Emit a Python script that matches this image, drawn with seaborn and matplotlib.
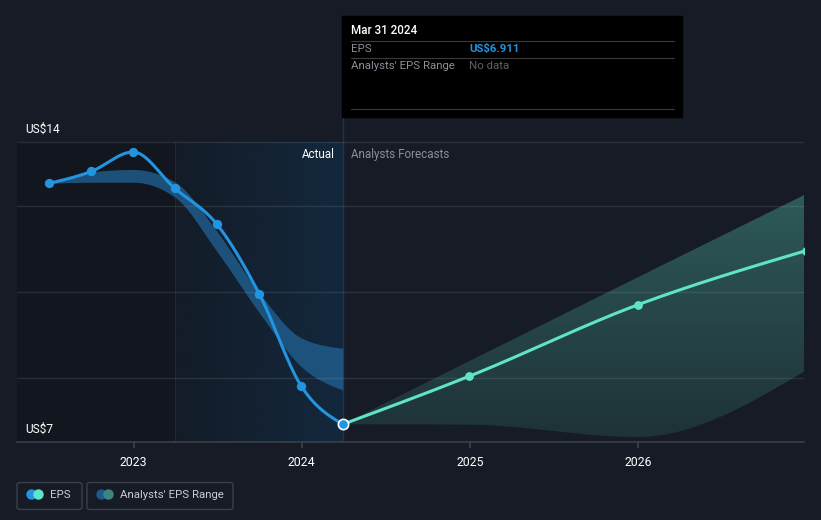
import numpy as np
import pandas as pd
import matplotlib
matplotlib.use("Agg")
import matplotlib.pyplot as plt
import seaborn as sns
from matplotlib.colors import LinearSegmentedColormap
from matplotlib.patches import FancyBboxPatch, Rectangle

# ================= DATA =================
# decimal years (quarter / year ends)
ACTUAL_X = [2022.496, 2022.748, 2022.997, 2023.244, 2023.496, 2023.748, 2023.997, 2024.244]
ACTUAL_EPS = [12.96, 13.26, 13.75, 12.84, 11.93, 10.18, 7.87, 6.911]

PAST_RANGE_LOW = [12.96, 12.99, 12.99, 12.62, 11.25, 9.71, 8.36, 7.77]
PAST_RANGE_HIGH = [12.96, 13.25, 13.31, 13.00, 11.75, 10.21, 9.08, 8.82]

FORECAST_X = [2024.244, 2024.997, 2025.997, 2026.997]
FORECAST_EPS = [6.911, 8.12, 9.91, 11.27]
FORECAST_LOW = [6.911, 6.90, 6.59, 8.26]
FORECAST_HIGH = [6.911, 8.50, 10.60, 12.69]

YEAR_TICKS = [2023, 2024, 2025, 2026]
GRID_VALUES = [14.0, 12.39, 10.23, 8.07]
# =========================================

BG = "#161b26"
BLUE = "#2394df"
TEAL = "#5fe3c9"

Y_MIN, Y_MAX = 6.466, 14.603
X_MIN, X_MAX = 2022.307, 2026.986
ACTUAL_START = 2023.244
NOW = 2024.244


def smooth(x, y, n=60):
    """monotone-x curve through the points (drawing only)"""
    x = np.asarray(x, float)
    y = np.asarray(y, float)
    h = np.diff(x)
    s = np.diff(y) / h
    k = len(y)
    m = np.zeros(k)
    for i in range(1, k - 1):
        p = (s[i - 1] * h[i] + s[i] * h[i - 1]) / (h[i - 1] + h[i])
        m[i] = (np.sign(s[i - 1]) + np.sign(s[i])) * min(abs(s[i - 1]), abs(s[i]), 0.5 * abs(p))
    m[0] = (3 * s[0] - m[1]) / 2 if k > 2 else s[0]
    m[-1] = (3 * s[-1] - m[-2]) / 2 if k > 2 else s[-1]
    xs, ys = [], []
    for i in range(k - 1):
        t = np.linspace(0, 1, n, endpoint=(i == k - 2))
        h00 = 2 * t**3 - 3 * t**2 + 1
        h10 = t**3 - 2 * t**2 + t
        h01 = -2 * t**3 + 3 * t**2
        h11 = t**3 - t**2
        xs.append(x[i] + t * h[i])
        ys.append(h00 * y[i] + h10 * h[i] * m[i] + h01 * y[i + 1] + h11 * h[i] * m[i + 1])
    return np.concatenate(xs), np.concatenate(ys)


def gradient_fill(ax, x, lo, hi, top_color, bottom_color, zorder=2):
    poly = ax.fill_between(x, lo, hi, color="none", lw=0)
    cmap = LinearSegmentedColormap.from_list("band", [bottom_color, top_color])
    im = ax.imshow(np.linspace(0, 1, 200).reshape(-1, 1), cmap=cmap, aspect="auto",
                   origin="lower", extent=[x.min(), x.max(), lo.min(), hi.max()],
                   zorder=zorder)
    im.set_clip_path(poly.get_paths()[0], transform=ax.transData)


def main():
    sns.set_theme(style="dark")
    plt.rcParams["font.family"] = ["Roboto", "DejaVu Sans"]

    fig = plt.figure(figsize=(8.21, 5.20), dpi=100, facecolor=BG)
    ax = fig.add_axes([17 / 821, 78 / 520, 787 / 821, 324 / 520])
    ax.set_facecolor(BG)

    # darker history area and "actual" gradient
    ax.fill_between([X_MIN, ACTUAL_START], Y_MIN, 14, color="#12161e", lw=0, zorder=0)
    grad = LinearSegmentedColormap.from_list("g", ["#131c28", "#13283d"])
    ax.imshow(np.linspace(0, 1, 100).reshape(1, -1), cmap=grad, aspect="auto",
              extent=[ACTUAL_START, NOW, Y_MIN, 14], zorder=0.5)
    ax.axvline(ACTUAL_START, ymax=(14 - Y_MIN) / (Y_MAX - Y_MIN), color="#1b2a3a", lw=0.8, zorder=0.6)

    # past analyst range
    px, plo = smooth(ACTUAL_X, PAST_RANGE_LOW)
    _, phi = smooth(ACTUAL_X, PAST_RANGE_HIGH)
    ax.fill_between(px, plo, phi, color="#1f5b8a", alpha=0.85, lw=0, zorder=2)

    # forecast range
    fx, flo = smooth(FORECAST_X, FORECAST_LOW)
    _, fhi = smooth(FORECAST_X, FORECAST_HIGH)
    gradient_fill(ax, fx, flo, fhi, "#2e5a5a", "#1e3237")

    for g in GRID_VALUES:
        ax.axhline(g, color="white", alpha=0.09, lw=1, zorder=2.5)

    # EPS lines
    ax_x, ax_y = smooth(ACTUAL_X, ACTUAL_EPS)
    sns.lineplot(x=ax_x, y=ax_y, ax=ax, color=BLUE, lw=2.2, sort=False, zorder=3)
    sns.scatterplot(x=ACTUAL_X[:-1], y=ACTUAL_EPS[:-1], ax=ax, color=BLUE, s=45,
                    linewidth=0, zorder=4)
    fx2, fy2 = smooth(FORECAST_X, FORECAST_EPS)
    sns.lineplot(x=fx2, y=fy2, ax=ax, color=TEAL, lw=2.2, sort=False, zorder=3)
    sns.scatterplot(x=FORECAST_X[1:], y=FORECAST_EPS[1:], ax=ax, color=TEAL, s=40,
                    linewidth=0, zorder=4)
    ax.scatter([ACTUAL_X[-1]], [ACTUAL_EPS[-1]], s=55, color=BLUE, edgecolor="white",
               linewidth=1.2, zorder=5)

    # current date line
    ax.axvline(NOW, color="#1e3550", lw=1, zorder=1)

    ax.set_xlim(X_MIN, X_MAX)
    ax.set_ylim(Y_MIN, Y_MAX)
    ax.set_yticks([])
    ax.set_xticks(YEAR_TICKS)
    ax.set_xticklabels([str(y) for y in YEAR_TICKS], color="white", fontsize=8.8)
    ax.tick_params(axis="x", length=4, color="#3a404b", pad=6, bottom=True)
    ax.grid(False)
    for side in ["top", "right", "left"]:
        ax.spines[side].set_visible(False)
    ax.spines["bottom"].set_color("#3a404b")
    ax.spines["bottom"].set_linewidth(1.2)

    # y labels
    ax.text(0.01, 14.15, "US$14", color="white", fontsize=8.6, transform=ax.get_yaxis_transform(),
            va="bottom")
    ax.text(0.01, Y_MIN + 0.15, "US$7", color="white", fontsize=8.6,
            transform=ax.get_yaxis_transform(), va="bottom")

    ax.text(NOW - 0.05, 13.68, "Actual", color="white", fontsize=8.4, ha="right", va="center")
    ax.text(NOW + 0.05, 13.68, "Analysts Forecasts", color="#8a8f98", fontsize=8.4,
            ha="left", va="center")

    # tooltip box
    fig.patches.append(Rectangle((342 / 821, 1 - 117 / 520), 340 / 821, 101 / 520,
                                 transform=fig.transFigure, color="black", zorder=5))
    fig.text(351 / 821, 1 - 31 / 520, "Mar 31 2024", color="white", fontsize=8.4,
             fontweight="medium", va="center", zorder=6)
    for yl in [41, 58, 109]:
        fig.lines.append(plt.Line2D([351 / 821, 674 / 821], [1 - yl / 520] * 2,
                                    transform=fig.transFigure, color="#3a3a3a", lw=0.8, zorder=6))
    fig.text(351 / 821, 1 - 49 / 520, "EPS", color="#8a8f98", fontsize=8.2, va="center", zorder=6)
    fig.text(469 / 821, 1 - 49 / 520, "US$6.911", color=BLUE, fontsize=8.2, fontweight="bold",
             va="center", zorder=6)
    fig.text(351 / 821, 1 - 66 / 520, "Analysts' EPS Range", color="#8a8f98", fontsize=8.2,
             va="center", zorder=6)
    fig.text(469 / 821, 1 - 66 / 520, "No data", color="#5d626a", fontsize=8.2, va="center", zorder=6)

    # legend
    def legend_item(x0, w, c1, c2, label):
        fig.patches.append(FancyBboxPatch((x0 / 821, 1 - 509.5 / 520), w / 821, 27 / 520,
                                          boxstyle="round,pad=0,rounding_size=0.004",
                                          transform=fig.transFigure, fc="none",
                                          ec="#3a404b", lw=1))
        for dx, c in [(14, c1), (20.5, c2)]:
            fig.lines.append(plt.Line2D([(x0 + dx) / 821], [1 - 494 / 520], marker="o",
                                        markersize=7.5, color=c, markeredgewidth=0,
                                        transform=fig.transFigure))
        fig.text((x0 + 33) / 821, 1 - 495 / 520, label, color="#c9ccd1", fontsize=8.2,
                 va="center")

    legend_item(17, 65, BLUE, TEAL, "EPS")
    legend_item(87, 146, "#1f5b8a", "#3c8580", "Analysts' EPS Range")

    fig.savefig("out.png", dpi=100, facecolor=BG)
    plt.close(fig)


if __name__ == "__main__":
    main()
